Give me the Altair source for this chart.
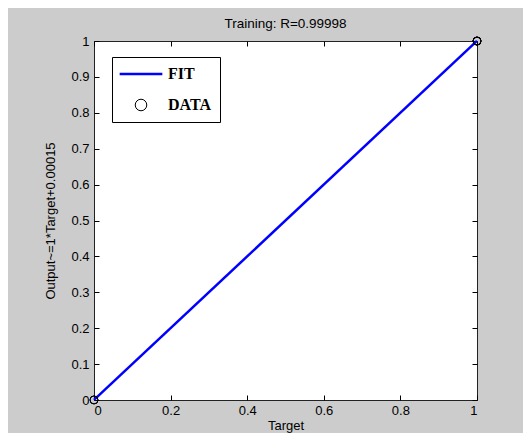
import altair as alt
import pandas as pd

# ---- data ----
fit_target = [0.0, 1.0]
fit_output = [0.00015, 1.00015]
data_target = [0.0, 0.0, 1.0, 1.0, 1.0, 1.0]
data_output = [0.0, 0.0004, 0.9995, 1.0, 1.0003, 0.9998]
series_names = ["FIT", "DATA"]
series_colors = ["#0000ff", "#000000"]
series_shapes = ["M-3.7,0L3.7,0", "circle"]
series_widths = [2.5, 1.0]
x_ticks = [0, 0.2, 0.4, 0.6, 0.8, 1]
y_ticks = [0, 0.1, 0.2, 0.3, 0.4, 0.5, 0.6, 0.7, 0.8, 0.9, 1]

fit_df = pd.DataFrame({"Target": fit_target, "Output": fit_output, "series": "FIT"})
data_df = pd.DataFrame({"Target": data_target, "Output": data_output, "series": "DATA"})

FONT = "Liberation Sans"
xscale = alt.Scale(domain=[0, 1], nice=False, zero=False)
yscale = alt.Scale(domain=[0, 1], nice=False, zero=False)

LX, LY = 18, 16
color = alt.Color("series:N", scale=alt.Scale(domain=series_names, range=series_colors),
                  legend=alt.Legend(title=None, orient="none", legendX=LX, legendY=LY,
                                    fillColor="white", strokeColor="black",
                                    padding=9, rowPadding=15, symbolSize=133,
                                    symbolOffset=12,
                                    labelFont="Liberation Serif", labelFontWeight="bold",
                                    labelFontSize=16, labelColor="black", labelOffset=19,
                                    symbolType="circle"))
sw = alt.StrokeWidth("series:N", scale=alt.Scale(domain=series_names, range=series_widths),
                     legend=alt.Legend(title=None, orient="none", legendX=LX, legendY=LY))
shape = alt.Shape("series:N", scale=alt.Scale(domain=series_names, range=series_shapes),
                  legend=alt.Legend(title=None, orient="none", legendX=LX, legendY=LY))

axis_common = dict(offset=-5, tickSize=5, domain=False, grid=False, tickColor="black",
                   labelFont=FONT, labelFontSize=13, labelColor="black",
                   titleFont=FONT, titleFontSize=13, titleColor="black",
                   titleFontWeight="normal", format="~g")

line = alt.Chart(fit_df).mark_line().encode(
    x=alt.X("Target:Q", scale=xscale,
            axis=alt.Axis(values=x_ticks, orient="bottom", labelPadding=4, titlePadding=2,
                          title="Target", **axis_common)),
    y=alt.Y("Output:Q", scale=yscale,
            axis=alt.Axis(values=y_ticks, orient="left", labelPadding=5, titlePadding=13,
                          title="Output~=1*Target+0.00015", **axis_common)),
    color=color,
    strokeWidth=sw,
)

points = alt.Chart(data_df).mark_point(filled=False, size=64, opacity=1).encode(
    x=alt.X("Target:Q", scale=xscale,
            axis=alt.Axis(values=x_ticks, orient="top", labels=False, title=None,
                          offset=-5, tickSize=5, domain=False, grid=False, tickColor="black")),
    y=alt.Y("Output:Q", scale=yscale,
            axis=alt.Axis(values=y_ticks, orient="right", labels=False, title=None,
                          offset=-5, tickSize=5, domain=False, grid=False, tickColor="black")),
    color=color,
    shape=shape,
    strokeWidth=sw,
)

chart = alt.layer(line, points).resolve_axis(x="independent", y="independent").properties(
    width=383, height=359,
    title=alt.TitleParams("Training: R=0.99998", font=FONT, fontSize=13.5,
                          fontWeight="normal", color="black", anchor="middle", offset=4),
    background="#cccccc",
    padding={"left": 86, "top": 33, "right": 46, "bottom": 33},
    autosize=alt.AutoSizeParams(type="none"),
).configure_view(fill="white", stroke="#222222", strokeWidth=1)

chart.save("out.html", embed_options={"renderer": "svg", "actions": False})
